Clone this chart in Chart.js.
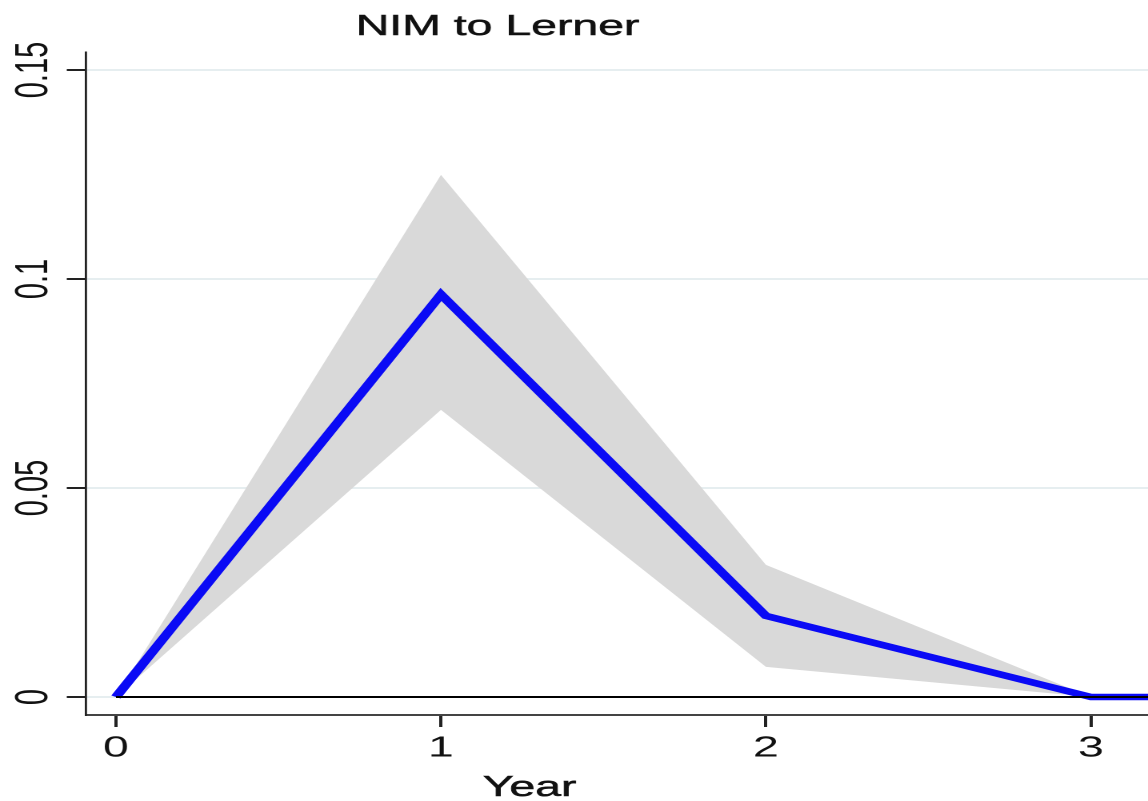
<!DOCTYPE html>
<html>
<head>
<meta charset="utf-8">
<script src="https://cdn.jsdelivr.net/npm/chart.js@4/dist/chart.umd.min.js"></script>
<style>
  html, body { margin: 0; padding: 0; background: #fff; overflow: hidden; }
  #wrap { width: 718px; height: 801px; transform: scaleX(1.6); transform-origin: 0 0; }
</style>
</head>
<body>
<div id="wrap"><canvas id="c" width="718" height="801"></canvas></div>
<script>
// ---- data ----
const chartTitle = "NIM to Lerner";
const xAxisTitle = "Year";
const years = [0, 1, 2, 3, 4];
const irf   = [0, 0.0963, 0.0194, 0, 0];
const upper = [0, 0.1249, 0.0316, 0, 0];
const lower = [0, 0.0687, 0.0072, 0, 0];
const zeroLine = [0, 0, 0, 0, 0];
const xTicks = [0, 1, 2, 3];
const yTicks = [0, 0.05, 0.1, 0.15];
const yTickLabels = ["0", "0.05", "0.1", "0.15"];

const FONT = "'Liberation Sans', Arial, Helvetica, sans-serif";
const pts = arr => years.map((x, i) => ({ x: x, y: arr[i] }));

const textPlugin = {
  id: 'texts',
  afterDraw(chart) {
    const ctx = chart.ctx;
    ctx.save();
    ctx.fillStyle = '#111';
    ctx.strokeStyle = '#111';
    ctx.lineWidth = 0.5;
    ctx.textAlign = 'center';
    ctx.textBaseline = 'alphabetic';
    ctx.font = "29px " + FONT;
    ctx.fillText(chartTitle, 311, 35);
    ctx.strokeText(chartTitle, 311, 35);
    ctx.fillText(xAxisTitle, 331, 796);
    ctx.strokeText(xAxisTitle, 331, 796);
    ctx.restore();
  }
};

new Chart(document.getElementById('c'), {
  type: 'line',
  data: {
    datasets: [
      { label: 'zero', data: pts(zeroLine), borderColor: '#000', borderWidth: 2, pointRadius: 0, fill: false },
      { label: 'IRF', data: pts(irf), borderColor: '#0a0af5', borderWidth: 6.5, pointRadius: 0, fill: false, borderJoinStyle: 'miter' },
      { label: 'upper', data: pts(upper), borderWidth: 0, borderColor: 'rgba(0,0,0,0)', pointRadius: 0, backgroundColor: '#d9d9d9', fill: '+1' },
      { label: 'lower', data: pts(lower), borderWidth: 0, borderColor: 'rgba(0,0,0,0)', pointRadius: 0, fill: false }
    ]
  },
  options: {
    responsive: false,
    animation: false,
    devicePixelRatio: 2,
    layout: { padding: { top: 52, left: 0, right: 0, bottom: 0 } },
    plugins: { legend: { display: false }, title: { display: false }, tooltip: { enabled: false } },
    elements: { line: { tension: 0 } },
    scales: {
      x: {
        type: 'linear',
        position: 'bottom',
        min: -0.0923,
        max: 3.178,
        afterBuildTicks: s => { s.ticks = xTicks.map(v => ({ value: v })); },
        afterFit: s => { s.height = 86; },
        grid: { drawOnChartArea: false, tickLength: 12, tickColor: '#222', tickWidth: 2 },
        border: { display: true, color: '#444', width: 2 },
        ticks: { font: { family: FONT, size: 29 }, color: '#111', padding: 4, maxRotation: 0, autoSkip: false }
      },
      y: {
        type: 'linear',
        min: -0.0043,
        max: 0.1543,
        afterBuildTicks: s => { s.ticks = yTicks.map(v => ({ value: v })); },
        afterFit: s => { s.width = 53.75; },
        grid: { color: '#e6eef0', lineWidth: 2, tickLength: 12, tickColor: '#222', tickWidth: 2 },
        border: { display: true, color: '#222', width: 1.4 },
        ticks: {
          font: { family: FONT, size: 29 }, color: '#111',
          minRotation: 90, maxRotation: 90, crossAlign: 'center', padding: -8,
          autoSkip: false,
          callback: (v) => { const i = yTicks.indexOf(v); return i >= 0 ? yTickLabels[i] : ''; }
        }
      }
    }
  },
  plugins: [textPlugin]
});
</script>
</body>
</html>
